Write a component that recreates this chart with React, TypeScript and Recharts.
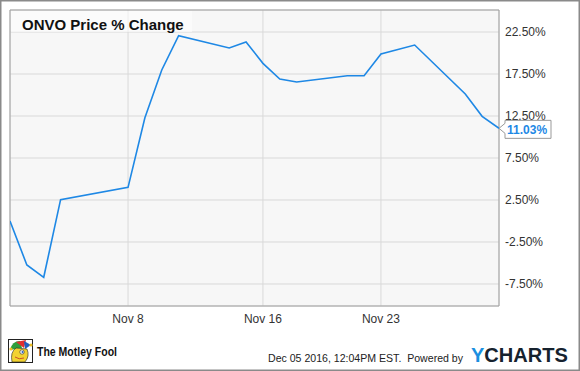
import React from 'react';
import { LineChart, Line, XAxis, YAxis, CartesianGrid, ReferenceArea } from 'recharts';

const days = [1, 2, 3, 4, 8, 9, 10, 11, 14, 15, 16, 17, 18, 21, 22, 23, 25, 28, 29, 30];
const changes = [0, -5.24, -6.7, 2.54, 4.01, 12.28, 17.98, 22.06, 20.6, 21.31, 18.77, 16.9, 16.55, 17.3, 17.3, 19.88, 20.95, 15.12, 12.46, 11.03];
const xTicks = [8, 16, 23];
const xTickLabels = ['Nov 8', 'Nov 16', 'Nov 23'];
const yTicks = [-7.5, -2.5, 2.5, 7.5, 12.5, 17.5, 22.5];
const yDomain = [-10.12, 25.12];
const xDomain = [1, 30];

const title = 'ONVO Price % Change';
const footerText = 'Dec 05 2016, 12:04PM EST.  Powered by';

const data = days.map((d, i) => ({ day: d, change: changes[i] }));

const BLUE = '#1e88e5';
const FONT = '"Liberation Sans", Arial, sans-serif';

const EndLabel = (props: any) => {
  const { x, y, index, value } = props;
  if (index !== data.length - 1) return null;
  return (
    <g>
      <path
        d={`M ${x} ${y} L ${x + 6} ${y - 5} L ${x + 6} ${y - 8} L ${x + 52} ${y - 8} L ${x + 52} ${y + 10} L ${x + 6} ${y + 10} L ${x + 6} ${y + 5} Z`}
        fill="#ffffff"
        stroke="#999999"
        strokeWidth={1}
      />
      <text x={x + 8} y={y + 5.5} fontFamily={FONT} fontSize={12} fontWeight="bold" fill={BLUE}>
        {value.toFixed(2)}%
      </text>
    </g>
  );
};

export default function App() {
  return (
    <div style={{ position: 'absolute', left: 0, top: 0, width: 580, height: 371, background: '#ffffff' }}>
      <LineChart width={580} height={371} data={data} margin={{ top: 10, right: 0, bottom: 35, left: 10 }}>
        <CartesianGrid fill="#f7f7f7" stroke="#d9d9d9" strokeWidth={1} />
        <XAxis
          dataKey="day"
          type="number"
          domain={xDomain}
          ticks={xTicks}
          tickFormatter={(v: number) => xTickLabels[xTicks.indexOf(v)]}
          axisLine={false}
          tickLine={false}
          height={30}
          tick={{ fill: '#333333', fontSize: 12, fontFamily: FONT }}
          allowDataOverflow
        />
        <YAxis
          orientation="right"
          width={81}
          domain={yDomain}
          ticks={yTicks}
          tickFormatter={(v: number) => `${v.toFixed(2)}%`}
          axisLine={false}
          tickLine={false}
          tickSize={4}
          tickMargin={2}
          tick={{ fill: '#333333', fontSize: 12, fontFamily: FONT, textAnchor: 'start' }}
          allowDataOverflow
        />
        <ReferenceArea
          x1={xDomain[0]}
          x2={xDomain[1]}
          y1={yDomain[0]}
          y2={yDomain[1]}
          fill="none"
          fillOpacity={0}
          stroke="#a0a0a0"
          strokeWidth={1}
          ifOverflow="extendDomain"
        />
        <Line
          type="linear"
          dataKey="change"
          stroke={BLUE}
          strokeWidth={1.6}
          dot={false}
          isAnimationActive={false}
          label={<EndLabel />}
        />
      </LineChart>
      <svg width={580} height={371} style={{ position: 'absolute', left: 0, top: 0, pointerEvents: 'none' }}>
        <rect x={11} y={11} width={181} height={21} fill="#ffffff" fillOpacity={0.55} />
        <text x={22} y={29.5} fontFamily={FONT} fontSize={15} fontWeight="bold" fill="#111111">
          {title}
        </text>
        {/* Motley Fool logo */}
        <g>
          <rect x={8.5} y={339.5} width={24} height={23} fill="#ffffff" stroke="#222222" strokeWidth={1} />
          <path d="M 10 350 Q 12 341 20 341 L 22 348 Z" fill="#2e9e3a" />
          <path d="M 16 342 L 26 340 L 24 348 Z" fill="#e03030" />
          <path d="M 24 341 L 31 345 L 25 349 Z" fill="#2060c0" />
          <circle cx={11} cy={349} r={1.6} fill="#f0c020" />
          <circle cx={31} cy={345} r={1.6} fill="#f0c020" />
          <path d="M 12 362 Q 10 352 16 348 L 27 349 Q 30 356 25 362 Z" fill="#f2d230" stroke="#222" strokeWidth={0.6} />
          <circle cx={22} cy={352} r={2.2} fill="#ffffff" stroke="#222" strokeWidth={0.6} />
          <circle cx={22.5} cy={352} r={1} fill="#2060c0" />
          <path d="M 15 357 Q 19 360 24 358" fill="none" stroke="#c03020" strokeWidth={0.8} />
        </g>
        <text x={37} y={355.5} fontFamily={FONT} fontSize={12} fontWeight="bold" fill="#111111" textLength={80} lengthAdjust="spacingAndGlyphs">
          The Motley Fool
        </text>
        <text x={268} y={361.5} fontFamily={FONT} fontSize={11} fill="#222222" textLength={195} lengthAdjust="spacingAndGlyphs" style={{ whiteSpace: 'pre' }}>
          {footerText}
        </text>
        <text x={471} y={362} fontFamily={FONT} fontSize={20} fontWeight="bold" textLength={97} lengthAdjust="spacingAndGlyphs">
          <tspan fill="#1a8fe0">Y</tspan>
          <tspan fill="#16222e">CHARTS</tspan>
        </text>
        <rect x={0.75} y={0.75} width={578.5} height={369.5} fill="none" stroke="#8a8a8a" strokeWidth={1.5} />
      </svg>
    </div>
  );
}
